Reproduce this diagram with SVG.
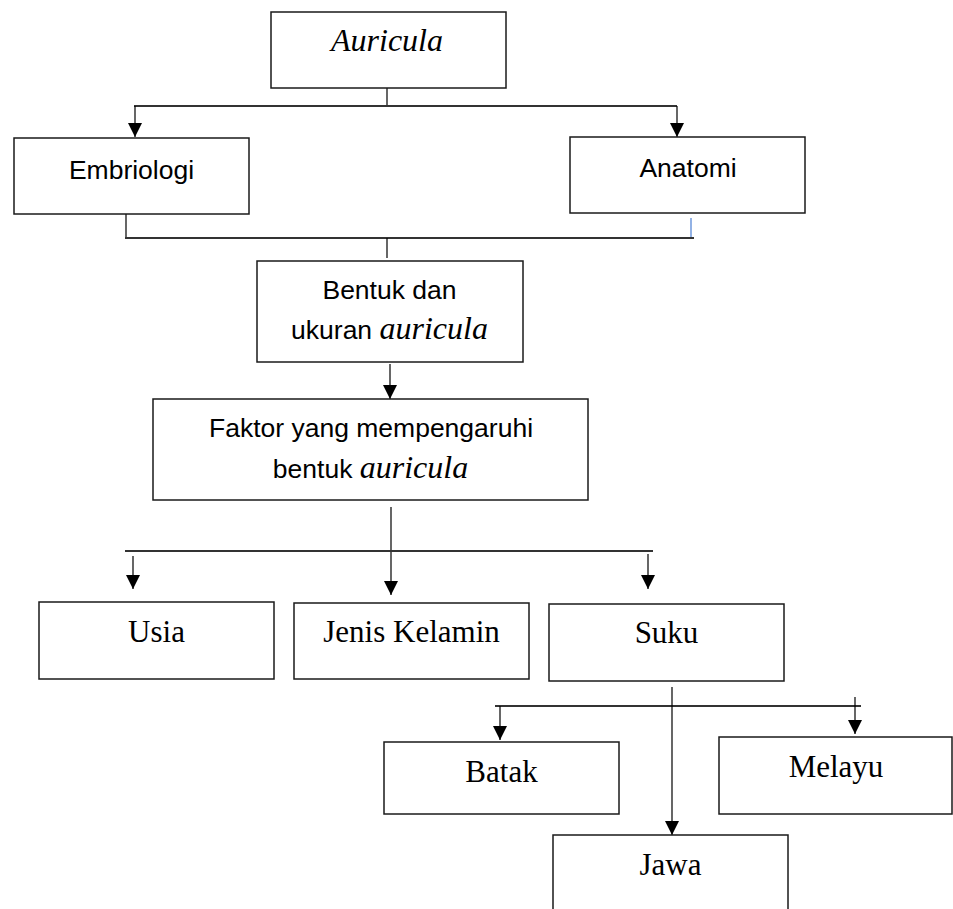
<svg xmlns="http://www.w3.org/2000/svg" width="953" height="909" viewBox="0 0 953 909">
<style>
.box{fill:#fff;stroke:#1a1a1a;stroke-width:1.5}
.sans{font-family:"Liberation Sans",Arial,sans-serif;font-size:26.5px;fill:#000;text-anchor:middle}
.serif{font-family:"Liberation Serif","Times New Roman",serif;font-size:31px;fill:#000;text-anchor:middle}
.it{font-family:"Liberation Serif","Times New Roman",serif;font-style:italic;font-size:32px}
.ln{stroke:#000;stroke-width:1.2;fill:none}
.hl{stroke:#333;stroke-width:2;fill:none}
.arr{stroke:#000;stroke-width:1.2;fill:none;marker-end:url(#ah)}
</style>
<defs>
<marker id="ah" markerUnits="userSpaceOnUse" markerWidth="14" markerHeight="14" refX="14" refY="7" orient="auto" viewBox="0 0 14 14">
<path d="M0,0 L14,7 L0,14 z" fill="#000"/>
</marker>
</defs>
<rect width="953" height="909" fill="#fff"/>
<g id="connectors">
<line class="ln" x1="387" y1="88" x2="387" y2="106"/>
<line class="hl" x1="134" y1="106" x2="677" y2="106"/>
<line class="arr" x1="135" y1="106" x2="135" y2="137"/>
<line class="arr" x1="677" y1="106" x2="677" y2="137"/>
<line class="ln" x1="126" y1="214" x2="126" y2="238"/>
<line x1="691" y1="218" x2="691" y2="238" stroke="#4a7fd4" stroke-width="1.2"/>
<line class="hl" x1="125" y1="238" x2="694" y2="238"/>
<line class="ln" x1="387" y1="238" x2="387" y2="258"/>
<line class="arr" x1="390" y1="364" x2="390" y2="399"/>
<line class="arr" x1="391" y1="507" x2="391" y2="595"/>
<line class="hl" x1="125" y1="551" x2="653" y2="551"/>
<line class="arr" x1="133" y1="556" x2="133" y2="589"/>
<line class="arr" x1="648" y1="554" x2="648" y2="589"/>
<line class="hl" x1="495" y1="706" x2="861" y2="706"/>
<line class="arr" x1="500" y1="706" x2="500" y2="740"/>
<line class="arr" x1="855" y1="697" x2="855" y2="734"/>
<line class="arr" x1="672" y1="687" x2="672" y2="835"/>
</g>
<g id="auricula">
<rect class="box" x="271" y="12" width="235" height="76"/>
<text class="serif" x="387" y="51"><tspan class="it">Auricula</tspan></text>
</g>
<g id="embriologi">
<rect class="box" x="14" y="138" width="235" height="76"/>
<text class="sans" x="131.5" y="179">Embriologi</text>
</g>
<g id="anatomi">
<rect class="box" x="570" y="137" width="235" height="76"/>
<text class="sans" x="688" y="177">Anatomi</text>
</g>
<g id="bentuk">
<rect class="box" x="257" y="261" width="266" height="101"/>
<text class="sans" x="389.5" y="299">Bentuk dan</text>
<text class="sans" x="389.5" y="339">ukuran <tspan class="it">auricula</tspan></text>
</g>
<g id="faktor">
<rect class="box" x="153" y="399" width="435" height="101"/>
<text class="sans" x="371" y="437">Faktor yang mempengaruhi</text>
<text class="sans" x="370.5" y="478">bentuk <tspan class="it">auricula</tspan></text>
</g>
<g id="usia">
<rect class="box" x="39" y="602" width="235" height="77"/>
<text class="serif" x="156.5" y="642">Usia</text>
</g>
<g id="jenis-kelamin">
<rect class="box" x="294" y="603" width="235" height="76"/>
<text class="serif" x="411.5" y="642">Jenis Kelamin</text>
</g>
<g id="suku">
<rect class="box" x="549" y="604" width="235" height="77"/>
<text class="serif" x="666.5" y="643">Suku</text>
</g>
<g id="batak">
<rect class="box" x="384" y="742" width="235" height="72"/>
<text class="serif" x="501.5" y="782">Batak</text>
</g>
<g id="melayu">
<rect class="box" x="719" y="737" width="233" height="77"/>
<text class="serif" x="836" y="777">Melayu</text>
</g>
<g id="jawa">
<rect class="box" x="553" y="835" width="235" height="90"/>
<text class="serif" x="670.5" y="875">Jawa</text>
</g>
</svg>
